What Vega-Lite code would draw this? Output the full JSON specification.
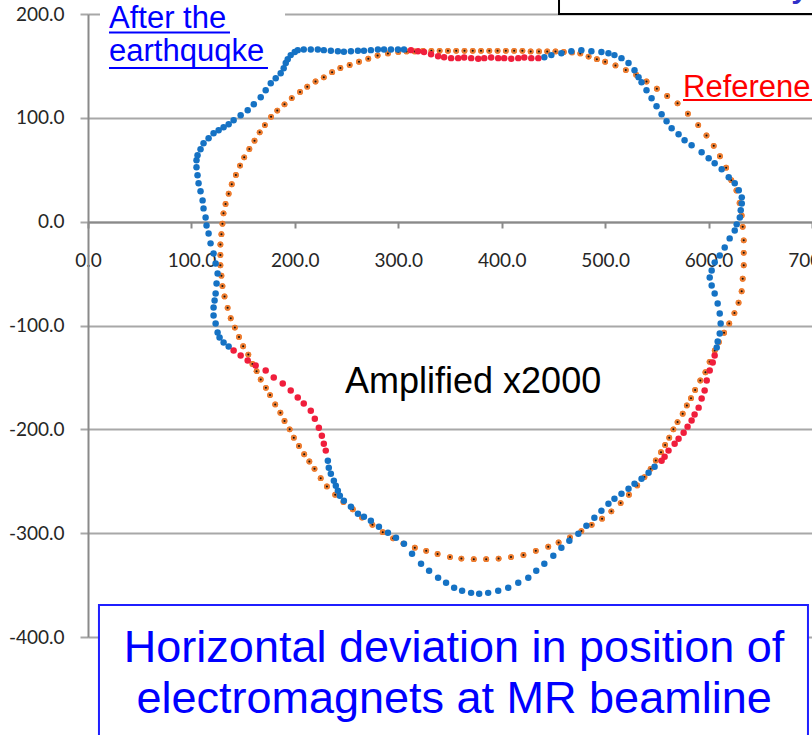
{
  "$schema": "https://vega.github.io/schema/vega-lite/v6.json",
  "width": 724,
  "height": 623,
  "autosize": {"type": "none"},
  "padding": {"left": 88, "top": 14, "right": 0, "bottom": 98},
  "background": "white",
  "config": {"view": {"stroke": null}},
  "datasets": {
    "one": [{}],
    "reference": [
      {"x":300,"y":163.5},{"x":308,"y":164},{"x":316,"y":164},{"x":324,"y":164.5},{"x":332,"y":164.5},{"x":340,"y":164.5},{"x":348,"y":164.5},{"x":356,"y":164.5},{"x":364,"y":164.5},{"x":372,"y":164.5},{"x":380,"y":164.5},{"x":388,"y":164.5},{"x":396,"y":164.5},{"x":404,"y":164.5},{"x":412,"y":164.5},{"x":420,"y":164.5},{"x":428,"y":164},{"x":436,"y":164},{"x":444,"y":164},{"x":452,"y":164},{"x":460,"y":163.5},{"x":468,"y":163},{"x":476,"y":162},
      {"x":484,"y":159},{"x":492,"y":156.5},{"x":500,"y":154},{"x":510,"y":150.5},{"x":520,"y":146},{"x":530,"y":141.5},{"x":540,"y":135},{"x":550,"y":128},{"x":560,"y":121},{"x":570,"y":114},{"x":580,"y":104},{"x":590,"y":93},{"x":598,"y":83},{"x":605,"y":73},{"x":611,"y":63},{"x":617,"y":52},{"x":622,"y":40},{"x":627,"y":30},{"x":630,"y":18},{"x":632,"y":6},{"x":633,"y":-5},{"x":634,"y":-18},{"x":634,"y":-30},{"x":634,"y":-42},{"x":633,"y":-55},{"x":632,"y":-67},{"x":629,"y":-78},{"x":625,"y":-88},{"x":620,"y":-98},{"x":615,"y":-107},{"x":610,"y":-116},{"x":606,"y":-124},{"x":601,"y":-135},{"x":597,"y":-145},{"x":592,"y":-153},{"x":587,"y":-162},{"x":583,"y":-170},{"x":579,"y":-177},{"x":575,"y":-185},{"x":570,"y":-193},{"x":566,"y":-200},{"x":562,"y":-208},{"x":558,"y":-215},{"x":554,"y":-222},{"x":549,"y":-230},{"x":544,"y":-238},{"x":538,"y":-246},{"x":531,"y":-254},{"x":523,"y":-263},{"x":515,"y":-271},{"x":506,"y":-279},{"x":497,"y":-286},{"x":487,"y":-292},{"x":477,"y":-298},{"x":466,"y":-304},{"x":455,"y":-309},{"x":445,"y":-313},{"x":433,"y":-317},{"x":421,"y":-321},{"x":409,"y":-323},{"x":397,"y":-324.5},{"x":385,"y":-325},{"x":373,"y":-325},{"x":361,"y":-324.5},{"x":350,"y":-323},{"x":338,"y":-320},{"x":327,"y":-317},{"x":316,"y":-314},{"x":305,"y":-310},{"x":295,"y":-305},{"x":285,"y":-299},{"x":275,"y":-292},{"x":265,"y":-285},{"x":256,"y":-277},{"x":247,"y":-270},{"x":239,"y":-263},{"x":231,"y":-255},{"x":225,"y":-247},{"x":219,"y":-238},{"x":214,"y":-231},{"x":209,"y":-224},{"x":204,"y":-216},{"x":199,"y":-208},{"x":195,"y":-200},{"x":190,"y":-192},{"x":186,"y":-184},{"x":181,"y":-176},{"x":176,"y":-167},{"x":172,"y":-160},{"x":167,"y":-152},{"x":163,"y":-144},{"x":159,"y":-137},{"x":155,"y":-128},{"x":150,"y":-120},{"x":146,"y":-111},{"x":142,"y":-102},{"x":138,"y":-93},{"x":135,"y":-83},{"x":132,"y":-72},{"x":130,"y":-62},{"x":129,"y":-52},{"x":128,"y":-42},{"x":128,"y":-32},{"x":128,"y":-22},{"x":129,"y":-12},{"x":130,"y":-2},{"x":131,"y":8},{"x":133,"y":17},{"x":136,"y":27},{"x":139,"y":36},{"x":143,"y":45},{"x":147,"y":54},{"x":151,"y":62},{"x":156,"y":70},{"x":161,"y":78},{"x":166,"y":86},{"x":171,"y":93},{"x":177,"y":101},{"x":183,"y":107},{"x":190,"y":113},{"x":197,"y":119},{"x":205,"y":125},{"x":212,"y":130},{"x":220,"y":135},{"x":228,"y":139},{"x":236,"y":144},{"x":244,"y":148},{"x":253,"y":151},{"x":262,"y":154},{"x":271,"y":157},{"x":280,"y":160},{"x":290,"y":162}
    ],
    "after": [
      {"x":441.2,"y":158.4},{"x":448,"y":160.4},{"x":457.7,"y":162.3},{"x":467.3,"y":164.2},{"x":477,"y":165.2},{"x":486.7,"y":164.2},{"x":496.4,"y":163.3},{"x":503.2,"y":162.3},{"x":509,"y":160.4},{"x":515.8,"y":157.5},{"x":522.6,"y":152.7},{"x":528.4,"y":145.9},{"x":532.3,"y":139.2},{"x":535.2,"y":134.3},{"x":540,"y":126.6},{"x":544.9,"y":118.9},{"x":549.7,"y":111.2},{"x":554.6,"y":103.5},{"x":559.4,"y":96.7},{"x":564.3,"y":90},{"x":571,"y":84.2},{"x":576.8,"y":78.4},{"x":583.6,"y":73.6},{"x":593.3,"y":66.8},{"x":600.1,"y":61},{"x":605.9,"y":56.2},{"x":612.7,"y":50.4},{"x":619.5,"y":42.7},{"x":625.3,"y":36.9},{"x":629.2,"y":30.2},{"x":632.1,"y":23.4},{"x":632.1,"y":17.6},{"x":631.1,"y":10.9},{"x":630.2,"y":4.1},{"x":627.2,"y":-2.6},{"x":625.3,"y":-8.4},{"x":620.4,"y":-16.1},{"x":615.6,"y":-24.8},{"x":610.8,"y":-32.5},{"x":605.9,"y":-39.2},{"x":603,"y":-47},{"x":601.1,"y":-53.7},{"x":603,"y":-61.4},{"x":605.9,"y":-69.1},{"x":608.8,"y":-78.8},{"x":610.8,"y":-88.4},{"x":611.7,"y":-98.1},{"x":610.8,"y":-107.7},{"x":608.8,"y":-115.4},{"x":607.9,"y":-121.2},
      {"x":547.8,"y":-236},{"x":542,"y":-241.8},{"x":535.2,"y":-247.5},{"x":528.4,"y":-252.4},{"x":522.6,"y":-257.2},{"x":515.8,"y":-262},{"x":509,"y":-266.8},{"x":503.2,"y":-271.6},{"x":496.4,"y":-278.4},{"x":489.6,"y":-285.1},{"x":481.9,"y":-292.9},{"x":474.1,"y":-300.6},{"x":465.4,"y":-307.3},{"x":457.7,"y":-314.1},{"x":449.9,"y":-321.8},{"x":441.2,"y":-329.5},{"x":433.4,"y":-336.3},{"x":425.7,"y":-343},{"x":416,"y":-347.8},{"x":406.3,"y":-352.6},{"x":396.6,"y":-355.5},{"x":386.9,"y":-357.5},{"x":378.2,"y":-358.4},{"x":370.4,"y":-357.5},{"x":361.7,"y":-355.5},{"x":354,"y":-352.6},{"x":346.2,"y":-347.8},{"x":338.5,"y":-343},{"x":329.8,"y":-336.3},{"x":322,"y":-329.5},{"x":313.3,"y":-319.9},{"x":305.5,"y":-310.2},{"x":297.8,"y":-304.4},{"x":290,"y":-299.6},{"x":281.3,"y":-293.8},{"x":273.5,"y":-288},{"x":266.8,"y":-284.2},{"x":261,"y":-281.3},{"x":254.2,"y":-274.5},{"x":247.4,"y":-268.8},{"x":243.5,"y":-263.9},{"x":241.6,"y":-259.1},{"x":239.6,"y":-254.3},{"x":237.7,"y":-249.5},{"x":234.8,"y":-242.7},{"x":232.8,"y":-236.9},{"x":231.9,"y":-230.2},
      {"x":136,"y":-120.3},{"x":131.1,"y":-116.4},{"x":127.2,"y":-111.6},{"x":125.3,"y":-106.7},{"x":123.4,"y":-98.1},{"x":121.4,"y":-90.4},{"x":121.4,"y":-82.6},{"x":122.4,"y":-75.9},{"x":123.4,"y":-69.1},{"x":124.3,"y":-59.5},{"x":125.3,"y":-49.9},{"x":123.4,"y":-40.2},{"x":121.4,"y":-30.6},{"x":118.5,"y":-20.9},{"x":116.6,"y":-11.3},{"x":114.6,"y":-3.6},{"x":113.7,"y":4.1},{"x":111.7,"y":12.8},{"x":110.8,"y":20.5},{"x":108.8,"y":29.2},{"x":106.9,"y":36.9},{"x":105.9,"y":44.6},{"x":104.9,"y":52.4},{"x":104.9,"y":59.1},{"x":105.9,"y":63.9},{"x":108.8,"y":69.7},{"x":111.7,"y":75.5},{"x":116.6,"y":80.3},{"x":121.4,"y":85.1},{"x":126.3,"y":88},{"x":131.1,"y":90.9},{"x":136,"y":93.8},{"x":140.8,"y":97.7},{"x":147.6,"y":102.5},{"x":154.4,"y":107.3},{"x":160.3,"y":113.1},{"x":167,"y":119.9},{"x":171.8,"y":126.6},{"x":176.7,"y":133.4},{"x":181.5,"y":138.2},{"x":186.3,"y":143},{"x":189.2,"y":147.8},{"x":191.2,"y":152.7},{"x":193.1,"y":156.5},{"x":196,"y":160.4},{"x":199.9,"y":163.3},{"x":202.8,"y":165.2},{"x":208.6,"y":165.7},{"x":215.4,"y":165.7},{"x":222.2,"y":165.7},{"x":228,"y":165.2},{"x":234.8,"y":164.7},{"x":241.6,"y":164.2},{"x":247.4,"y":163.7},{"x":254.2,"y":164.2},{"x":261,"y":164.7},{"x":266.8,"y":164.7},{"x":273.5,"y":165.2},{"x":280.3,"y":165.7},{"x":286.2,"y":165.7},{"x":292.9,"y":165.7},{"x":299.7,"y":165.7},{"x":305.5,"y":165.7}
    ],
    "highlight": [
      {"x":312.3,"y":165.2},{"x":319.1,"y":164.2},{"x":324.9,"y":163.3},{"x":331.7,"y":161.3},{"x":338.5,"y":159.4},{"x":344.3,"y":158.4},{"x":351.1,"y":157.5},{"x":357.9,"y":157.5},{"x":363.7,"y":158},{"x":370.5,"y":157.5},{"x":377.3,"y":157},{"x":383.1,"y":157.5},{"x":389.8,"y":158},{"x":396.6,"y":157.5},{"x":402.4,"y":157.5},{"x":409.2,"y":157},{"x":416,"y":157.5},{"x":421.8,"y":158},{"x":428.6,"y":157.5},{"x":435.4,"y":157.5},
      {"x":605.9,"y":-128.9},{"x":604,"y":-135.7},{"x":601.1,"y":-143.4},{"x":598.2,"y":-153},{"x":596.2,"y":-162.7},{"x":593.3,"y":-170.4},{"x":590.4,"y":-179.1},{"x":586.5,"y":-185.8},{"x":583.6,"y":-191.6},{"x":579.7,"y":-197.4},{"x":575.9,"y":-203.2},{"x":571,"y":-209},{"x":567.2,"y":-213.8},{"x":561.3,"y":-220.5},{"x":557.5,"y":-226.3},{"x":554.6,"y":-230.2},
      {"x":229.9,"y":-220.5},{"x":228,"y":-213.8},{"x":226.1,"y":-206.1},{"x":223.2,"y":-198.4},{"x":219.3,"y":-189.7},{"x":215.4,"y":-182},{"x":208.6,"y":-175.2},{"x":202.8,"y":-169.4},{"x":196,"y":-162.7},{"x":188.3,"y":-155.9},{"x":179.6,"y":-150.1},{"x":171.8,"y":-143.4},{"x":162.1,"y":-138.6},{"x":154.4,"y":-133.8},{"x":147.6,"y":-128.9},{"x":140.8,"y":-124.1}
    ]
  },
  "layer": [
    {
      "data": {"name": "reference"},
      "mark": {"type": "point", "filled": true, "shape": "circle", "size": 34, "color": "#ed7d31", "opacity": 1},
      "encoding": {
        "x": {"field": "x", "type": "quantitative", "scale": {"domain": [0, 700], "nice": false, "zero": false},
          "axis": {"orient": "bottom", "offset": -415, "values": [0,100,200,300,400,500,600,700], "labelExpr": "replace(format(datum.value, '.1f'), '\u2212', '-')", "title": null, "grid": false,
            "domainColor": "#8a8a8a", "domainWidth": 2, "tickColor": "#8a8a8a", "tickWidth": 2, "tickSize": 6, "labelPadding": 23,
            "labelFont": "Lato", "labelFontSize": 19, "labelColor": "#262626", "labelFlush": false, "labelOverlap": false, "labelBound": false}},
        "y": {"field": "y", "type": "quantitative", "scale": {"domain": [-400, 200], "nice": false, "zero": false},
          "axis": {"values": [-400,-300,-200,-100,0,100,200], "labelExpr": "replace(format(datum.value, '.1f'), '\u2212', '-')", "title": null, "grid": true, "gridColor": "#a8a8a8", "gridWidth": 2,
            "domainColor": "#8a8a8a", "domainWidth": 2, "tickColor": "#a8a8a8", "tickWidth": 2, "tickSize": 8, "labelPadding": 16,
            "labelFont": "Lato", "labelFontSize": 19, "labelColor": "#262626", "labelFlush": false, "labelOverlap": false}}
      }
    },
    {
      "data": {"name": "one"},
      "mark": {"type": "rect", "fill": "white"},
      "encoding": {
        "x": {"datum": 11.6, "type": "quantitative", "axis": {"title": null}},
        "x2": {"datum": 190.5},
        "y": {"datum": 146.5, "type": "quantitative", "axis": {"title": null}},
        "y2": {"datum": 215.4}
      }
    },
    {
      "data": {"name": "reference"},
      "mark": {"type": "point", "filled": true, "shape": "circle", "size": 34, "color": "#ed7d31", "opacity": 1},
      "encoding": {
        "x": {"field": "x", "type": "quantitative", "axis": {"title": null}},
        "y": {"field": "y", "type": "quantitative", "axis": {"title": null}}
      }
    },
    {
      "data": {"name": "reference"},
      "mark": {"type": "point", "filled": true, "shape": "circle", "size": 4, "color": "#111111", "opacity": 1},
      "encoding": {
        "x": {"field": "x", "type": "quantitative", "axis": {"title": null}},
        "y": {"field": "y", "type": "quantitative", "axis": {"title": null}}
      }
    },
    {
      "data": {"name": "after"},
      "mark": {"type": "point", "filled": true, "shape": "circle", "size": 42, "color": "#1572c4", "opacity": 1},
      "encoding": {
        "x": {"field": "x", "type": "quantitative", "axis": {"title": null}},
        "y": {"field": "y", "type": "quantitative", "axis": {"title": null}}
      }
    },
    {
      "data": {"name": "highlight"},
      "mark": {"type": "point", "filled": true, "shape": "circle", "size": 42, "color": "#f01e3c", "opacity": 1},
      "encoding": {
        "x": {"field": "x", "type": "quantitative", "axis": {"title": null}},
        "y": {"field": "y", "type": "quantitative", "axis": {"title": null}}
      }
    },
    {
      "data": {"name": "one"},
      "mark": {"type": "text", "text": "After the", "font": "Liberation Sans", "fontSize": 31, "color": "#0000ff", "align": "left", "baseline": "alphabetic"},
      "encoding": {"x": {"datum": 20.3, "type": "quantitative", "axis": {"title": null}}, "y": {"datum": 186.2, "type": "quantitative", "axis": {"title": null}}}
    },
    {
      "data": {"name": "one"},
      "mark": {"type": "text", "text": "earthquqke", "font": "Liberation Sans", "fontSize": 31, "color": "#0000ff", "align": "left", "baseline": "alphabetic"},
      "encoding": {"x": {"datum": 20.3, "type": "quantitative", "axis": {"title": null}}, "y": {"datum": 155.0, "type": "quantitative", "axis": {"title": null}}}
    },
    {
      "data": {"name": "one"},
      "mark": {"type": "rule", "color": "#0000ff", "strokeWidth": 2},
      "encoding": {"x": {"datum": 20.3, "type": "quantitative", "axis": {"title": null}}, "x2": {"datum": 137.3}, "y": {"datum": 182.2, "type": "quantitative", "axis": {"title": null}}}
    },
    {
      "data": {"name": "one"},
      "mark": {"type": "rule", "color": "#0000ff", "strokeWidth": 2},
      "encoding": {"x": {"datum": 20.3, "type": "quantitative", "axis": {"title": null}}, "x2": {"datum": 174.0}, "y": {"datum": 148.0, "type": "quantitative", "axis": {"title": null}}}
    },
    {
      "data": {"name": "one"},
      "mark": {"type": "text", "text": "Referene", "font": "Liberation Sans", "fontSize": 31, "color": "#ff0000", "align": "left", "baseline": "alphabetic"},
      "encoding": {"x": {"datum": 575.3, "type": "quantitative", "axis": {"title": null}}, "y": {"datum": 120.4, "type": "quantitative", "axis": {"title": null}}}
    },
    {
      "data": {"name": "one"},
      "mark": {"type": "rule", "color": "#ff0000", "strokeWidth": 2},
      "encoding": {"x": {"datum": 575.3, "type": "quantitative", "axis": {"title": null}}, "x2": {"datum": 720}, "y": {"datum": 117.2, "type": "quantitative", "axis": {"title": null}}}
    },
    {
      "data": {"name": "one"},
      "mark": {"type": "text", "text": "Amplified x2000", "font": "Liberation Sans", "fontSize": 36, "color": "#000000", "align": "left", "baseline": "alphabetic"},
      "encoding": {"x": {"datum": 248.5, "type": "quantitative", "axis": {"title": null}}, "y": {"datum": -165.0, "type": "quantitative", "axis": {"title": null}}}
    },
    {
      "data": {"name": "one"},
      "mark": {"type": "rect", "fill": "white", "stroke": "#1f1fff", "strokeWidth": 2},
      "encoding": {
        "x": {"datum": 10.6, "type": "quantitative", "axis": {"title": null}},
        "x2": {"datum": 696.1},
        "y": {"datum": -369.2, "type": "quantitative", "axis": {"title": null}},
        "y2": {"datum": -510}
      }
    },
    {
      "data": {"name": "one"},
      "mark": {"type": "text", "text": "Horizontal deviation in position of", "font": "Liberation Sans", "fontSize": 45, "color": "#0000ff", "align": "center", "baseline": "alphabetic"},
      "encoding": {"x": {"datum": 353.9, "type": "quantitative", "axis": {"title": null}}, "y": {"datum": -424.1, "type": "quantitative", "axis": {"title": null}}}
    },
    {
      "data": {"name": "one"},
      "mark": {"type": "text", "text": "electromagnets at MR beamline", "font": "Liberation Sans", "fontSize": 45, "color": "#0000ff", "align": "center", "baseline": "alphabetic"},
      "encoding": {"x": {"datum": 353.9, "type": "quantitative", "axis": {"title": null}}, "y": {"datum": -473.2, "type": "quantitative", "axis": {"title": null}}}
    },
    {
      "data": {"name": "one"},
      "mark": {"type": "rect", "fill": "white", "stroke": "#000000", "strokeWidth": 2},
      "encoding": {
        "x": {"datum": 455.4, "type": "quantitative", "axis": {"title": null}},
        "x2": {"datum": 730},
        "y": {"datum": 200, "type": "quantitative", "axis": {"title": null}},
        "y2": {"datum": 240}
      }
    },
    {
      "data": {"name": "one"},
      "mark": {"type": "text", "text": "y", "font": "Liberation Sans", "fontSize": 30, "fontWeight": "bold", "color": "#3030c8", "align": "center", "baseline": "alphabetic"},
      "encoding": {"x": {"datum": 688, "type": "quantitative", "axis": {"title": null}}, "y": {"datum": 215.4, "type": "quantitative", "axis": {"title": null}}}
    }
  ]
}
